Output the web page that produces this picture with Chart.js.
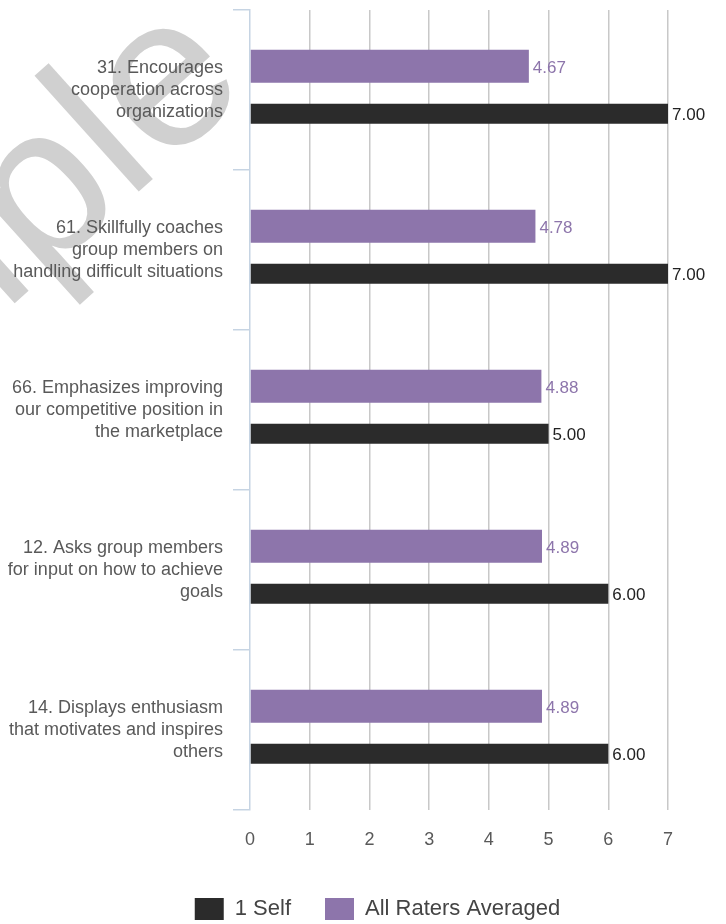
<!DOCTYPE html>
<html>
<head>
<meta charset="utf-8">
<script src="https://cdn.jsdelivr.net/npm/chart.js@4.4.1/dist/chart.umd.min.js"></script>
<style>
    html, body { margin: 0; padding: 0; background: #ffffff; }
    #chart-wrap { position: relative; width: 726px; height: 924px; }
</style>
</head>
<body>
<div id="chart-wrap">
    <canvas id="rater-chart" width="726" height="924"></canvas>
</div>

<script>
    // item text, split into the lines shown beside each group
    const item_labels = [
        ['31. Encourages', 'cooperation across', 'organizations'],
        ['61. Skillfully coaches', 'group members on', 'handling difficult situations'],
        ['66. Emphasizes improving', 'our competitive position in', 'the marketplace'],
        ['12. Asks group members', 'for input on how to achieve', 'goals'],
        ['14. Displays enthusiasm', 'that motivates and inspires', 'others']
    ];
    const raters_avg = [4.67, 4.78, 4.88, 4.89, 4.89];
    const self_scores = [7.00, 7.00, 5.00, 6.00, 6.00];
    const scale_ticks = [0, 1, 2, 3, 4, 5, 6, 7];

    const font_family = '"Liberation Sans", Arial, Helvetica, sans-serif';
    const purple = '#8d75ab';
    const dark = '#2b2b2b';
    const axis_blue = '#c6d4e3';

    // big grey watermark behind everything
    const watermark = {
        id: 'watermark',
        afterLayout(chart) {
            // legend is centred on the page a bit right of the middle
            chart.legend.left = 29;
            chart.legend.right = 726;
        },
        beforeDraw(chart) {
            let ctx = chart.ctx;
            ctx.save();
            ctx.translate(-329, 533);
            ctx.rotate(-42 * Math.PI / 180);
            ctx.font = '215px ' + font_family;
            ctx.fillStyle = '#d0d0d0';
            ctx.fillText('Sample', 0, 0);
            ctx.restore();
        }
    };

    // value printed just right of every bar
    const bar_values = {
        id: 'bar_values',
        afterDatasetsDraw(chart) {
            let ctx = chart.ctx;
            ctx.save();
            ctx.font = '17px ' + font_family;
            ctx.textAlign = 'left';
            ctx.textBaseline = 'middle';
            chart.data.datasets.forEach((ds, i) => {
                chart.getDatasetMeta(i).data.forEach((bar, j) => {
                    ctx.fillStyle = ds.valueColor;
                    ctx.fillText(ds.data[j].toFixed(2), bar.x + 4, bar.y + 2);
                });
            });
            ctx.restore();
        }
    };

    new Chart(document.getElementById('rater-chart'), {
        type: 'bar',
        data: {
            labels: item_labels,
            datasets: [{
                label: 'All Raters Averaged',
                data: raters_avg,
                backgroundColor: purple,
                valueColor: purple,
                barPercentage: 0.695
            }, {
                label: '1 Self',
                data: self_scores,
                backgroundColor: dark,
                valueColor: '#222222',
                barPercentage: 0.42
            }]
        },
        options: {
            indexAxis: 'y',
            responsive: false,
            animation: false,
            categoryPercentage: 0.594,
            layout: {
                padding: { top: 10, left: 0, right: 58, bottom: -6 }
            },
            plugins: {
                tooltip: { enabled: false },
                legend: {
                    position: 'bottom',
                    reverse: true,
                    labels: {
                        boxWidth: 29,
                        boxHeight: 22,
                        padding: 34,
                        color: '#444444',
                        font: { family: font_family, size: 22 }
                    }
                }
            },
            scales: {
                x: {
                    min: 0,
                    max: 7,
                    afterBuildTicks: (scale) => {
                        scale.ticks = scale_ticks.map(v => ({ value: v }));
                    },
                    afterFit: (scale) => { scale.height = 54; },
                    border: { display: false },
                    grid: {
                        color: (c) => c.index === 0 ? 'rgba(0,0,0,0)' : '#c8c8c8',
                        lineWidth: 1.5,
                        drawTicks: false
                    },
                    ticks: {
                        padding: 19,
                        color: '#595959',
                        font: { family: font_family, size: 18 }
                    }
                },
                y: {
                    afterFit: (scale) => {
                        scale.width = 250;
                        scale.paddingTop = 0;
                        scale.paddingBottom = 0;
                    },
                    border: { color: axis_blue, width: 1.5 },
                    grid: {
                        offset: true,
                        drawOnChartArea: false,
                        color: axis_blue,
                        lineWidth: 1.5,
                        tickLength: 17
                    },
                    ticks: {
                        padding: 10,
                        color: '#595959',
                        font: { family: font_family, size: 18, lineHeight: 1.22 }
                    }
                }
            }
        },
        plugins: [watermark, bar_values]
    });
</script>
</body>
</html>
